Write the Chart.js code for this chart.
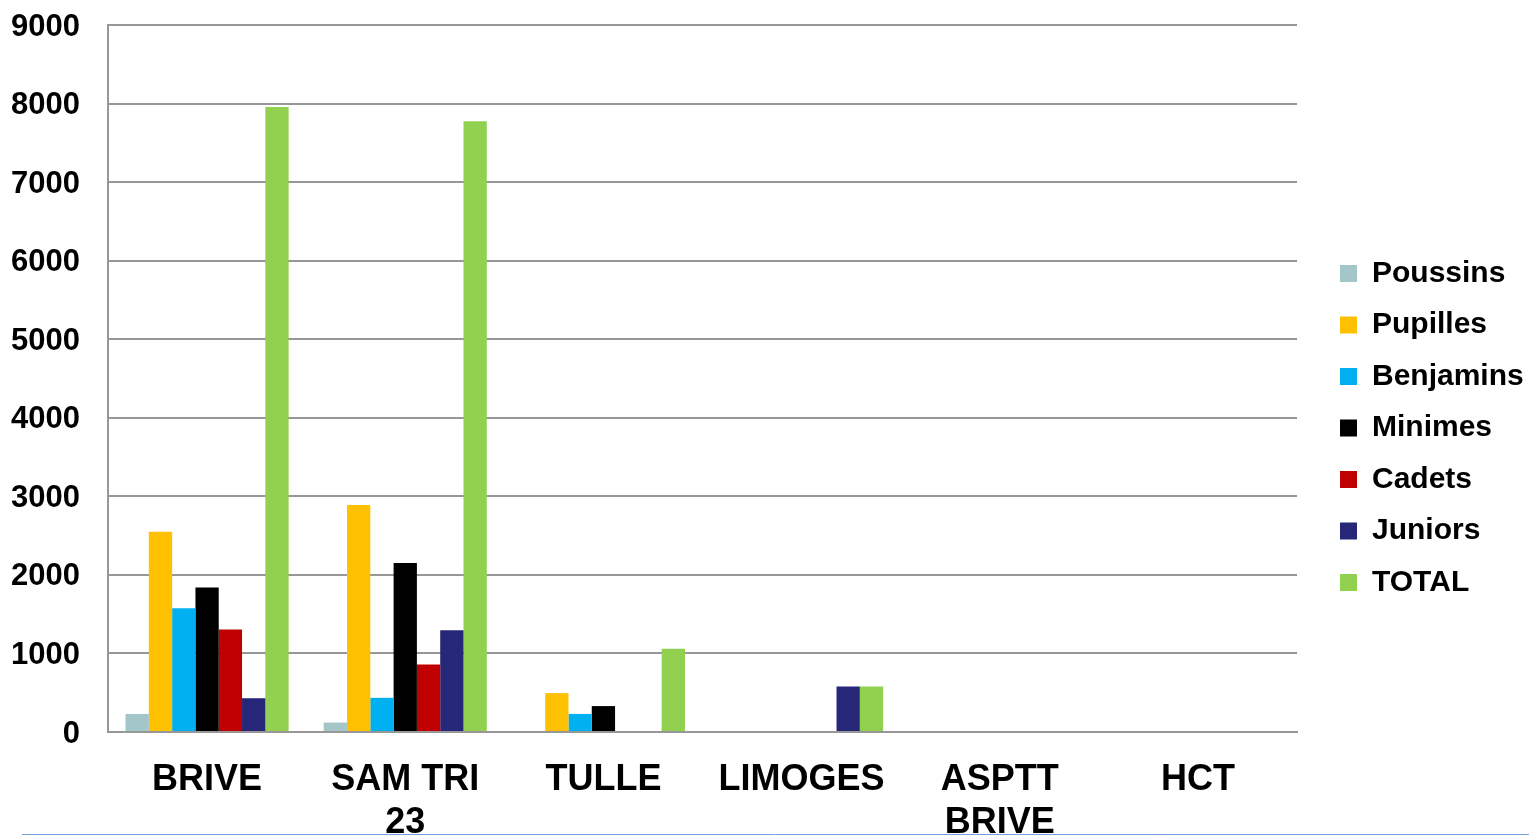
<!DOCTYPE html>
<html>
<head>
<meta charset="utf-8">
<title>Licenciés par club</title>
<script src="https://cdn.jsdelivr.net/npm/chart.js@4/dist/chart.umd.min.js"></script>
<style>
    html, body { margin: 0; padding: 0; background: #fff; }
    #wrap { position: relative; width: 1529px; height: 836px; }
</style>
</head>
<body>
<div id="wrap"><canvas id="clubChart"></canvas></div>
<script>
// ----------------- Data -----------------
const clubs = ['BRIVE', ['SAM TRI', '23'], 'TULLE', 'LIMOGES', ['ASPTT', 'BRIVE'], 'HCT'];

const poussins  = [230, 120, 0, 0, 0, 0];
const pupilles  = [2550, 2890, 495, 0, 0, 0];
const benjamins = [1575, 435, 230, 0, 0, 0];
const minimes   = [1840, 2150, 330, 0, 0, 0];
const cadets    = [1305, 860, 0, 0, 0, 0];
const juniors   = [430, 1295, 0, 580, 0, 0];
const total     = [7955, 7775, 1060, 580, 0, 0];

const yTicks = [0, 1000, 2000, 3000, 4000, 5000, 6000, 7000, 8000, 9000];

const seriesNames  = ['Poussins', 'Pupilles', 'Benjamins', 'Minimes', 'Cadets', 'Juniors', 'TOTAL'];
const seriesData   = [poussins, pupilles, benjamins, minimes, cadets, juniors, total];
const seriesColors = ['#a3c6c9', '#ffc000', '#00b0f0', '#000000', '#c00000', '#27277a', '#92d050'];

const FONT = '"Liberation Sans", Arial, sans-serif';
const GRID = '#979797';

// legend sits a little away from the plot, fixed width
const legendWidth = 210.5;
const legendShift = -2.5;

const legendTweak = {
    id: 'legendTweak',
    afterInit(chart) {
        const legend = chart.legend;
        if (!legend) return;
        const fit = legend.fit.bind(legend);
        legend.fit = function () {
            fit();
            this.width = legendWidth;
        };
    },
    afterLayout(chart) {
        if (!chart.legend) return;
        chart.legend.top += legendShift;
        chart.legend.bottom += legendShift;
    }
};

// thin blue rule along the bottom of the picture
const bottomRule = {
    id: 'bottomRule',
    afterDraw(chart) {
        const ctx = chart.ctx;
        ctx.save();
        ctx.strokeStyle = '#76a0e4';
        ctx.lineWidth = 1;
        ctx.beginPath();
        ctx.moveTo(22, 834.5);
        ctx.lineTo(chart.width, 834.5);
        ctx.stroke();
        ctx.restore();
    }
};

const ctx = document.getElementById('clubChart').getContext('2d');

const clubChart = new Chart(ctx, {
    type: 'bar',
    data: {
        labels: clubs,
        datasets: seriesNames.map((name, i) => ({
            label: name,
            data: seriesData[i],
            backgroundColor: seriesColors[i],
            borderWidth: 0,
            categoryPercentage: 0.823,
            barPercentage: 1
        }))
    },
    options: {
        responsive: true,
        maintainAspectRatio: false,
        animation: false,
        layout: { padding: { top: 25, bottom: 0, left: 0, right: 0 } },
        plugins: {
            legend: {
                position: 'right',
                labels: {
                    boxWidth: 17,
                    boxHeight: 17,
                    padding: 21.5,
                    color: '#000',
                    font: { family: FONT, size: 30, weight: 'bold' }
                }
            },
            tooltip: { enabled: false }
        },
        scales: {
            x: {
                grid: { display: false },
                border: { display: true, color: GRID, width: 2 },
                ticks: {
                    color: '#000',
                    padding: 18,
                    maxRotation: 0,
                    autoSkip: false,
                    font: { family: FONT, size: 36, weight: 'bold', lineHeight: 1.2 }
                },
                afterFit(scale) {
                    scale.height = 104;
                    scale.paddingLeft = 0;
                    scale.paddingRight = 0;
                }
            },
            y: {
                min: 0,
                max: 9000,
                afterBuildTicks(scale) { scale.ticks = yTicks.map(v => ({ value: v })); },
                grid: { color: GRID, lineWidth: 2, drawTicks: false },
                border: { display: true, color: GRID, width: 2 },
                ticks: {
                    color: '#000',
                    padding: 28,
                    labelOffset: 2,
                    callback: v => String(v),
                    font: { family: FONT, size: 31, weight: 'bold' }
                },
                afterFit(scale) {
                    scale.width = 108;
                    scale.paddingTop = 0;
                    scale.paddingBottom = 0;
                }
            },
            gap: {
                position: 'right',
                display: true,
                grid: { display: false },
                border: { display: false },
                ticks: { display: false },
                afterFit(scale) { scale.width = 21.5; }
            }
        }
    },
    plugins: [legendTweak, bottomRule]
});
</script>
</body>
</html>
